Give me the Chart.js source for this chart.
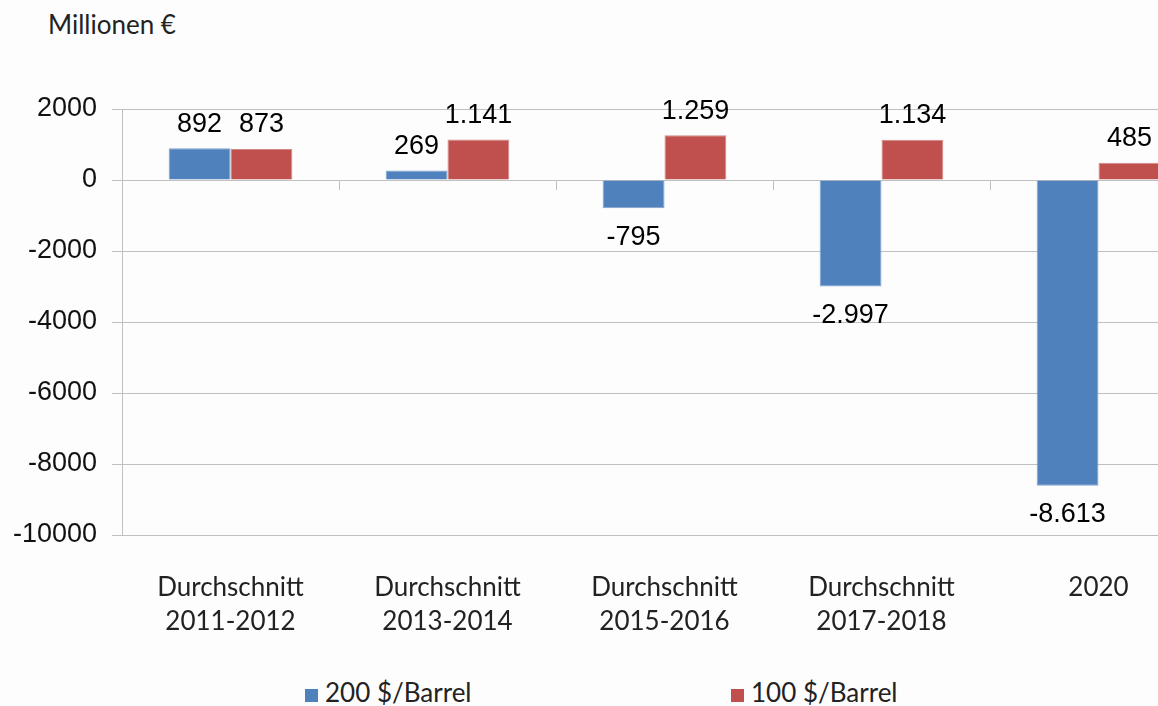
<!DOCTYPE html>
<html><head><meta charset="utf-8">
<script src="https://cdn.jsdelivr.net/npm/chart.js@4.4.1/dist/chart.umd.min.js"></script>
<style>
html,body{margin:0;padding:0;background:#fdfdfd;overflow:hidden;width:1158px;height:706px;position:relative;}
#wrap{position:absolute;left:0;top:0;width:1212px;height:650px;}
#unit{position:absolute;left:48px;top:7px;font-family:Lato,sans-serif;font-size:26px;color:#222;line-height:34px;white-space:nowrap;}
.leg{position:absolute;top:676px;font-family:Lato,sans-serif;font-size:26px;color:#222;line-height:32px;white-space:nowrap;}
.sw{display:inline-block;width:13px;height:13px;margin-right:7px;position:relative;top:0px;}
</style>
</head><body>
<div id="unit">Millionen €</div>
<div id="wrap"><canvas id="c" width="1212" height="650"></canvas></div>
<div id="leg1" class="leg" style="left:305px"><span class="sw" style="background:#4F81BD"></span>200 $/Barrel</div>
<div id="leg2" class="leg" style="left:731px"><span class="sw" style="background:#C0504D"></span>100 $/Barrel</div>
<script>
const categories = [["Durchschnitt","2011-2012"],["Durchschnitt","2013-2014"],["Durchschnitt","2015-2016"],["Durchschnitt","2017-2018"],"2020"];
const series200 = [892, 269, -795, -2997, -8613];
const series100 = [873, 1141, 1259, 1134, 485];
const seriesNames = ["200 $/Barrel", "100 $/Barrel"];
const yTicks = [2000, 0, -2000, -4000, -6000, -8000, -10000];

function fmtDE(v){
  const s = Math.abs(v).toString().replace(/\B(?=(\d{3})+(?!\d))/g, ".");
  return (v < 0 ? "-" : "") + s;
}

const labelPlugin = {
  id: 'valueLabels',
  afterDatasetsDraw(chart){
    const ctx = chart.ctx;
    ctx.save();
    ctx.font = '27px "Liberation Sans", Arial, sans-serif';
    ctx.fillStyle = '#000';
    ctx.textAlign = 'center';
    ctx.textBaseline = 'middle';
    chart.data.datasets.forEach((ds, di) => {
      const meta = chart.getDatasetMeta(di);
      meta.data.forEach((bar, i) => {
        const v = ds.data[i];
        const y = v >= 0 ? bar.y - 24 : bar.y + 29;
        ctx.fillText(fmtDE(v), bar.x, y);
      });
    });
    // small category tick marks on the zero line
    const xs = chart.scales.x, ys = chart.scales.y;
    const y0 = ys.getPixelForValue(0);
    ctx.strokeStyle = '#c0c0c0';
    ctx.lineWidth = 1;
    for (let i = 1; i < categories.length; i++){
      const bx = Math.round((xs.getPixelForTick(i-1) + xs.getPixelForTick(i)) / 2) + 0.5;
      ctx.beginPath();
      ctx.moveTo(bx, y0);
      ctx.lineTo(bx, y0 + 10);
      ctx.stroke();
    }
    ctx.restore();
  }
};

new Chart(document.getElementById('c'), {
  type: 'bar',
  data: {
    labels: categories,
    datasets: [
      { label: seriesNames[0], data: series200, backgroundColor: '#4F81BD', borderColor: '#7FA2CF', borderWidth: 1 },
      { label: seriesNames[1], data: series100, backgroundColor: '#C0504D', borderColor: '#D58785', borderWidth: 1 }
    ]
  },
  options: {
    responsive: false,
    devicePixelRatio: 1,
    animation: false,
    categoryPercentage: 0.57,
    barPercentage: 1.0,
    layout: { padding: { left: 0, top: 109, right: 5, bottom: 0 } },
    plugins: { legend: { display: false }, tooltip: { enabled: false } },
    scales: {
      x: {
        grid: { display: false },
        border: { display: false },
        ticks: {
          autoSkip: false, maxRotation: 0, minRotation: 0,
          padding: 28,
          color: '#222',
          font: { family: 'Lato, sans-serif', size: 26, lineHeight: 34/26 }
        },
        afterFit(s){ s.height = 115; }
      },
      y: {
        min: -10000, max: 2000,
        afterBuildTicks(s){ s.ticks = yTicks.map(v => ({ value: v })); },
        grid: { color: '#c0c0c0', tickLength: 10, lineWidth: 1 },
        border: { display: true, color: '#c0c0c0' },
        ticks: {
          padding: 15,
          color: '#111',
          font: { family: '"Liberation Sans", Arial, sans-serif', size: 27 },
          callback: v => String(v)
        },
        afterFit(s){ s.width = 122; }
      }
    }
  },
  plugins: [labelPlugin]
});
</script>
</body></html>
